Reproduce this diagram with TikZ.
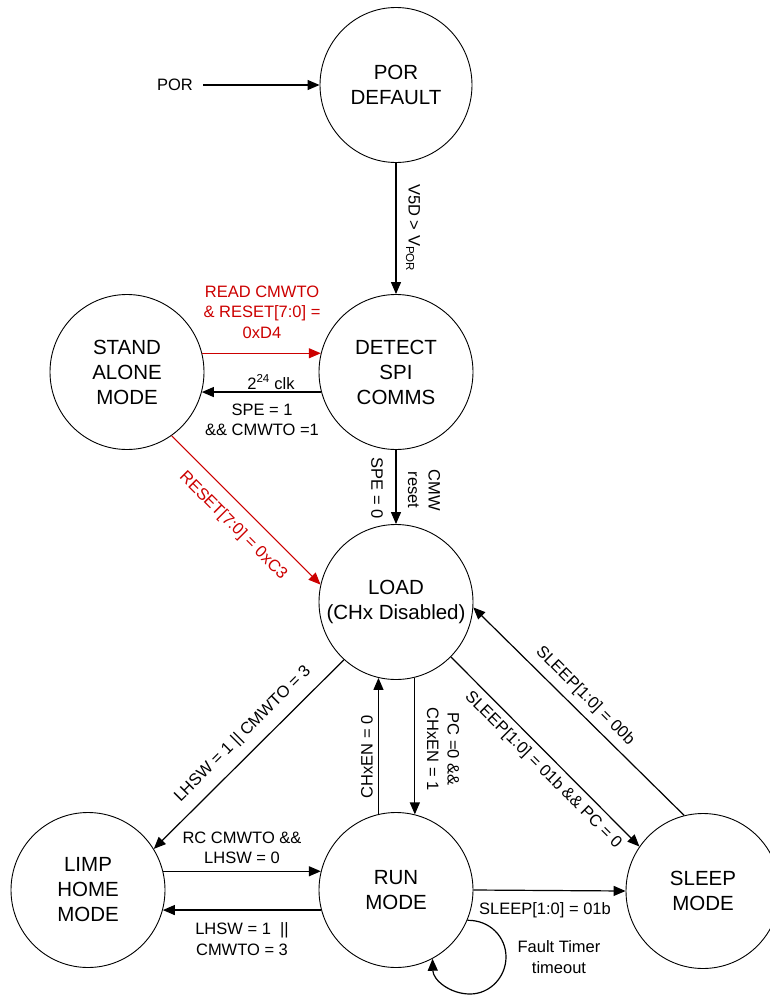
\documentclass[tikz,border=0pt]{standalone}
\usepackage{fontspec}
\setmainfont{Liberation Sans}
\usetikzlibrary{shapes.geometric,arrows.meta}
\definecolor{myred}{RGB}{204,0,0}
\begin{document}
\begin{tikzpicture}[x=1pt,y=-1pt,
  state/.style={draw, ellipse, line width=0.9pt, minimum width=154pt, minimum height=155pt, inner sep=0pt, align=center, font=\fontsize{20.5}{25}\selectfont},
  arr/.style={line width=1.2pt, -{Triangle[length=12pt,width=10pt]}},
  rarr/.style={arr, draw=myred, line width=1pt},
  lbl/.style={font=\fontsize{16.5}{20.5}\selectfont, align=center, inner sep=0pt},
  rlbl/.style={lbl, text=myred}]
\useasboundingbox (0,0) rectangle (769,996);

% states
\node[state, minimum width=152pt] (por) at (396,85) {POR\\DEFAULT};
\node[state] (detect) at (396,372) {DETECT\\SPI\\COMMS};
\node[state] (stand) at (127,372) {STAND\\ALONE\\MODE};
\node[state, inner xsep=-22pt] (load) at (396,602) {LOAD\\(CHx Disabled)};
\node[state] (run) at (396,890) {RUN\\MODE};
\node[state] (limp) at (88,890) {LIMP\\HOME\\MODE};
\node[state] (sleep) at (703,891) {SLEEP\\MODE};

% input
\node[lbl] (porlbl) at (175,85) {POR};
\coordinate (porstart) at (203,85);
\draw[arr] (porstart) -- (por.west);

% connectors
\draw[arr] (por.south) -- (detect.north);
\draw[rarr] (stand.14) -- (detect.166);
\draw[arr] (detect.195) -- (stand.-15);
\draw[arr] (detect.south) -- (load.north);
\draw[rarr] (stand.-55) -- (load.167);
\draw[arr] (load.-132) -- (limp.32);
\draw[arr] (limp.14) -- (run.166);
\draw[arr] (run.-165) -- (limp.-15);
\draw[arr] (load.-76) -- (run.76);
\draw[arr] (run.103) -- (load.-103);
\draw[arr] (load.-45) -- (sleep.145);
\draw[arr] (sleep.104) -- (load.-4);
\draw[arr] (run.east) -- (sleep.west);
\coordinate (loopR) at (506,957);
\coordinate (loopB) at (470,994);
\draw[arr] (run.-23) .. controls (490,920) and (506,937) .. (loopR)
  .. controls (506,977) and (490,994) .. (loopB)
  .. controls (450,994) and (433,980) .. (run.-62);

% labels
\node[lbl, rotate=-90] at (413,228) {V5D > V\textsubscript{POR}};
\node[rlbl] at (262,312) {READ CMWTO\\\& RESET[7:0] =\\0xD4};
\node[lbl] at (271,382) {2\textsuperscript{24} clk};
\node[lbl] at (262,420) {SPE = 1\\\&\& CMWTO =1};
\node[lbl, rotate=-90] at (377,488) {SPE = 0};
\node[lbl, rotate=-90] at (424,490) {CMW\\reset};
\node[rlbl, rotate=-45] at (233,526) {RESET[7:0] = 0xC3};
\node[lbl, rotate=45] at (243,734) {LHSW = 1 || CMWTO = 3};
\node[lbl, rotate=90] at (367,757) {CHxEN = 0};
\node[lbl, rotate=-90] at (443,749) {PC =0 \&\&\\CHxEN = 1};
\node[lbl, rotate=-45] at (585,696) {SLEEP[1:0] = 00b};
\node[lbl, rotate=-45] at (543,770) {SLEEP[1:0] = 01b \&\& PC = 0};
\node[lbl] at (242,848) {RC CMWTO \&\&\\LHSW = 0};
\node[lbl] at (242,939) {LHSW = 1\ \ ||\\CMWTO = 3};
\node[lbl] at (545,910) {SLEEP[1:0] = 01b};
\node[lbl] at (559,957) {Fault Timer\\timeout};
\end{tikzpicture}
\end{document}
